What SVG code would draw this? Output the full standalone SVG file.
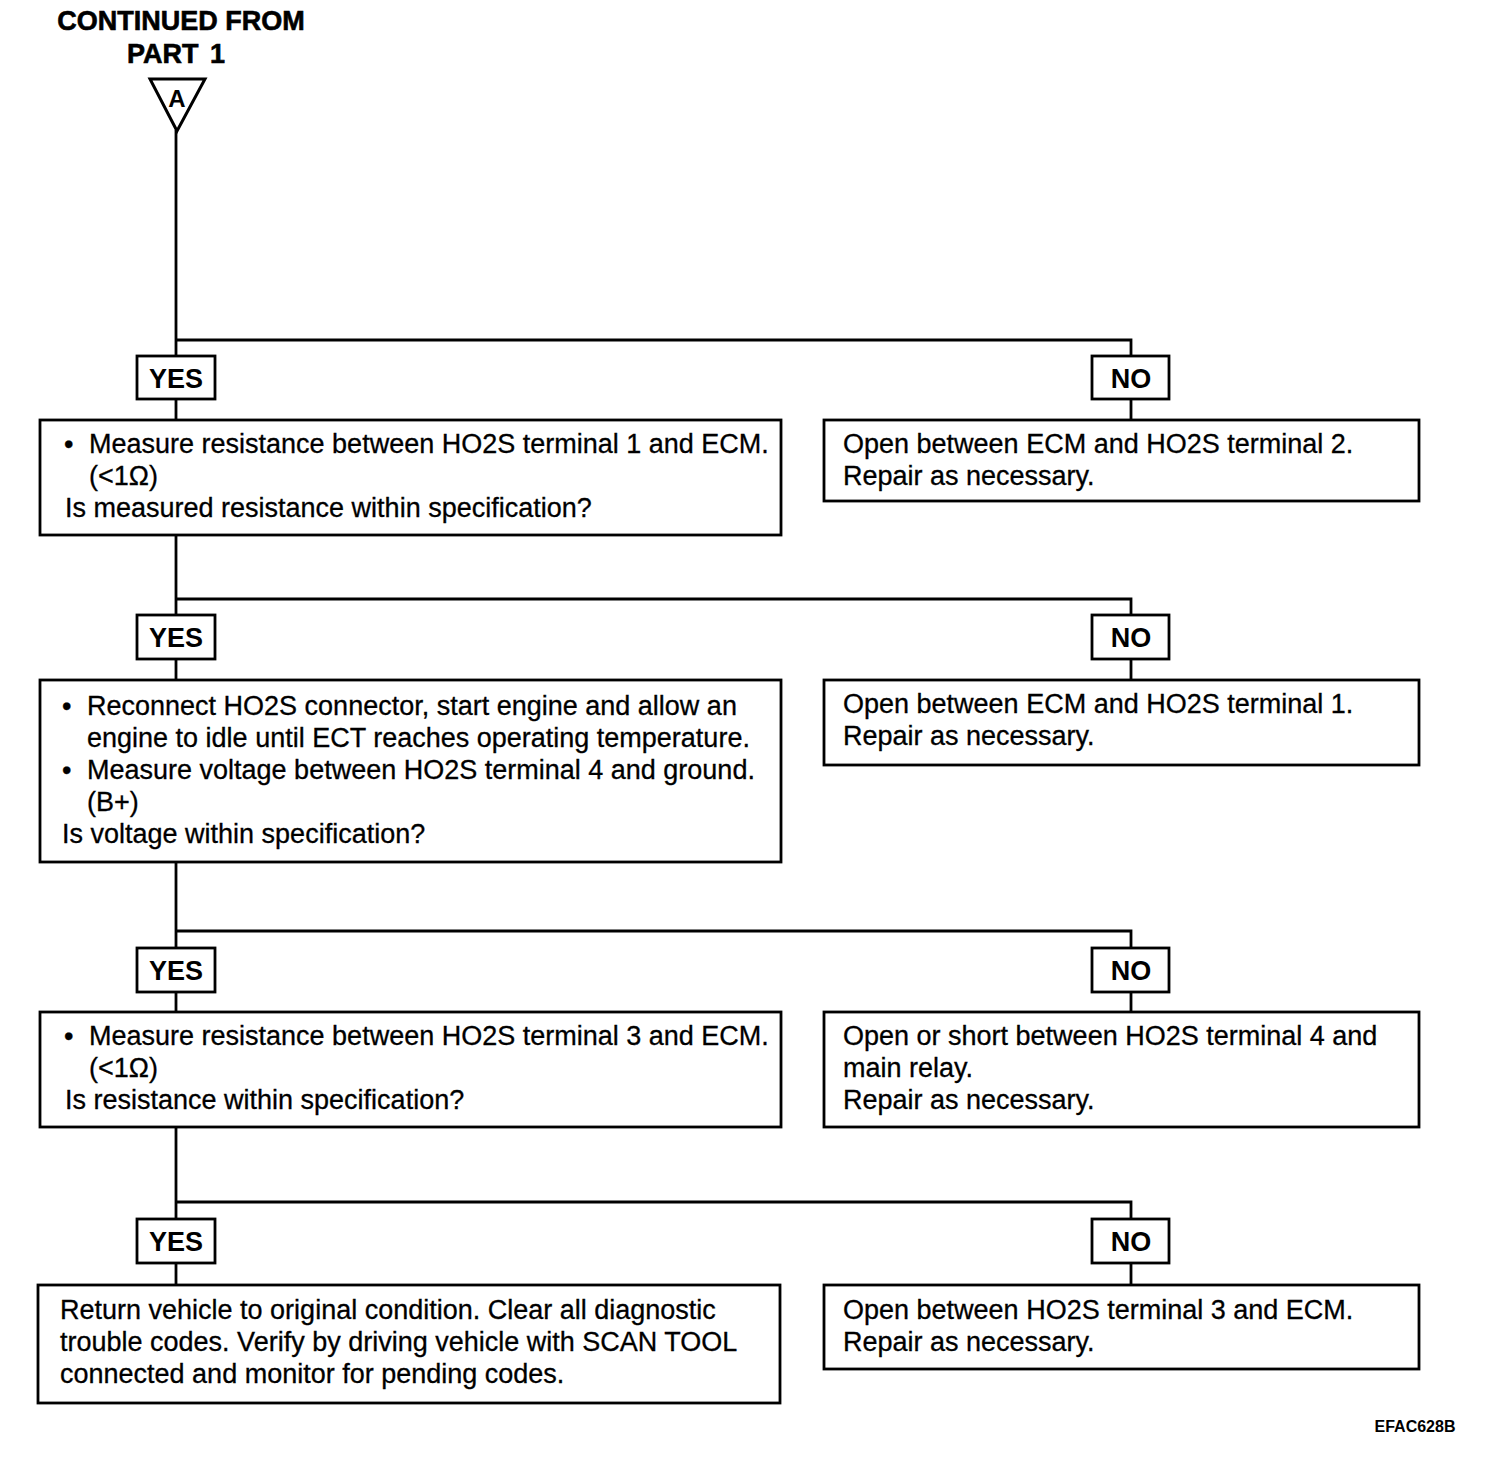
<svg xmlns="http://www.w3.org/2000/svg" width="1504" height="1458" viewBox="0 0 1504 1458">
<style>
.b{fill:#fff;stroke:#000;stroke-width:2.8}
.c{fill:none;stroke:#000;stroke-width:2.8}
.t{font-family:"Liberation Sans",Arial,sans-serif;font-size:27px;fill:#000;stroke:#000;stroke-width:0.3}
.l{font-family:"Liberation Sans",Arial,sans-serif;font-size:27px;font-weight:bold;fill:#000;text-anchor:middle}
.h{font-family:"Liberation Sans",Arial,sans-serif;font-size:27px;font-weight:bold;fill:#000;text-anchor:middle;stroke:#000;stroke-width:0.6}
</style>
<rect width="1504" height="1458" fill="#fff"/>
<g id="header">
<text class="h" x="181" y="30">CONTINUED FROM</text>
<text class="h" x="176" y="63" style="word-spacing:4px">PART  1</text>
</g>
<g id="connectors">
<path class="c" d="M176 130V420"/>
<path class="c" d="M176 340H1131V420"/>
<path class="c" d="M176 535V680"/>
<path class="c" d="M176 599H1131V680"/>
<path class="c" d="M176 862V1012"/>
<path class="c" d="M176 931H1131V1012"/>
<path class="c" d="M176 1127V1285"/>
<path class="c" d="M176 1202H1131V1285"/>
</g>
<g id="connectorA">
<path class="b" d="M150 79H205L177 131Z" style="stroke-width:3"/>
<text class="l" x="177" y="107" style="font-size:24px">A</text>
</g>
<g id="yes1"><rect class="b" x="137" y="356" width="78" height="43"/><text class="l" x="176" y="388">YES</text></g>
<g id="no1"><rect class="b" x="1092" y="356" width="77" height="43"/><text class="l" x="1131" y="388">NO</text></g>
<g id="step1">
<rect class="b" x="40" y="420" width="741" height="115"/>
<text class="t"><tspan x="64" y="453">•</tspan><tspan x="89" y="453">Measure resistance between HO2S terminal 1 and ECM.</tspan><tspan x="89" y="485">(&lt;1Ω)</tspan><tspan x="65" y="517">Is measured resistance within specification?</tspan></text>
</g>
<g id="result1">
<rect class="b" x="824" y="420" width="595" height="81"/>
<text class="t"><tspan x="843" y="453">Open between ECM and HO2S terminal 2.</tspan><tspan x="843" y="485">Repair as necessary.</tspan></text>
</g>
<g id="yes2"><rect class="b" x="137" y="615" width="78" height="44"/><text class="l" x="176" y="647">YES</text></g>
<g id="no2"><rect class="b" x="1092" y="615" width="77" height="44"/><text class="l" x="1131" y="647">NO</text></g>
<g id="step2">
<rect class="b" x="40" y="680" width="741" height="182"/>
<text class="t"><tspan x="62" y="715">•</tspan><tspan x="87" y="715">Reconnect HO2S connector, start engine and allow an</tspan><tspan x="87" y="747">engine to idle until ECT reaches operating temperature.</tspan><tspan x="62" y="779">•</tspan><tspan x="87" y="779">Measure voltage between HO2S terminal 4 and ground.</tspan><tspan x="87" y="811">(B+)</tspan><tspan x="62" y="843">Is voltage within specification?</tspan></text>
</g>
<g id="result2">
<rect class="b" x="824" y="680" width="595" height="85"/>
<text class="t"><tspan x="843" y="713">Open between ECM and HO2S terminal 1.</tspan><tspan x="843" y="745">Repair as necessary.</tspan></text>
</g>
<g id="yes3"><rect class="b" x="137" y="948" width="78" height="44"/><text class="l" x="176" y="980">YES</text></g>
<g id="no3"><rect class="b" x="1092" y="948" width="77" height="44"/><text class="l" x="1131" y="980">NO</text></g>
<g id="step3">
<rect class="b" x="40" y="1012" width="741" height="115"/>
<text class="t"><tspan x="64" y="1045">•</tspan><tspan x="89" y="1045">Measure resistance between HO2S terminal 3 and ECM.</tspan><tspan x="89" y="1077">(&lt;1Ω)</tspan><tspan x="65" y="1109">Is resistance within specification?</tspan></text>
</g>
<g id="result3">
<rect class="b" x="824" y="1012" width="595" height="115"/>
<text class="t"><tspan x="843" y="1045">Open or short between HO2S terminal 4 and</tspan><tspan x="843" y="1077">main relay.</tspan><tspan x="843" y="1109">Repair as necessary.</tspan></text>
</g>
<g id="yes4"><rect class="b" x="137" y="1219" width="78" height="44"/><text class="l" x="176" y="1251">YES</text></g>
<g id="no4"><rect class="b" x="1092" y="1219" width="77" height="44"/><text class="l" x="1131" y="1251">NO</text></g>
<g id="step4">
<rect class="b" x="38" y="1285" width="742" height="118"/>
<text class="t"><tspan x="60" y="1319">Return vehicle to original condition. Clear all diagnostic</tspan><tspan x="60" y="1351">trouble codes. Verify by driving vehicle with SCAN TOOL</tspan><tspan x="60" y="1383">connected and monitor for pending codes.</tspan></text>
</g>
<g id="result4">
<rect class="b" x="824" y="1285" width="595" height="84"/>
<text class="t"><tspan x="843" y="1319">Open between HO2S terminal 3 and ECM.</tspan><tspan x="843" y="1351">Repair as necessary.</tspan></text>
</g>
<text x="1415" y="1432" style="font-family:'Liberation Sans',Arial,sans-serif;font-size:16px;font-weight:bold;text-anchor:middle">EFAC628B</text>
</svg>
